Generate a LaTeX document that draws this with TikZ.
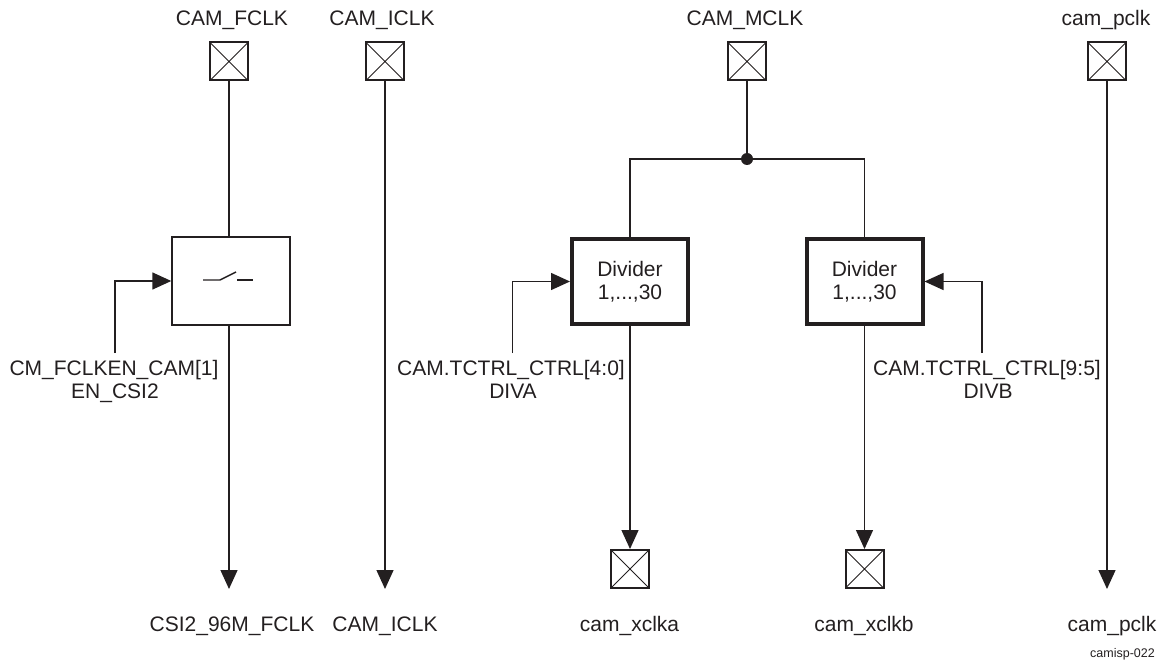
\documentclass[tikz,border=0pt]{standalone}
\usepackage{fontspec}
\setmainfont{Liberation Sans}
\usetikzlibrary{arrows.meta}
\definecolor{ink}{HTML}{231F20}
\begin{document}
\begin{tikzpicture}[x=1pt,y=-1pt,
  every node/.style={text=ink},
  wire/.style={draw=ink,line width=1.4pt},
  arr/.style={wire,-{Triangle[length=19pt,width=17pt]}},
  pad/.style={draw=ink,line width=2pt,rectangle,minimum width=38pt,minimum height=38pt,inner sep=0pt,
    path picture={\draw[ink,line width=1pt] (path picture bounding box.north west)--(path picture bounding box.south east)
      (path picture bounding box.north east)--(path picture bounding box.south west);}},
  lbl/.style={font=\fontsize{21}{25}\selectfont,inner sep=0pt,anchor=base},
  divbox/.style={draw=ink,line width=4pt,rectangle,minimum width=116pt,minimum height=85pt,inner sep=0pt},
  swbox/.style={draw=ink,line width=1.4pt,rectangle,minimum width=118pt,minimum height=88pt,inner sep=0pt},
  dot/.style={circle,fill=ink,minimum size=12pt,inner sep=0pt}
]
\useasboundingbox (0,0) rectangle (1164,660);

% top labels
\node[lbl] (tFCLK) at (232,26) {CAM\_FCLK};
\node[lbl] (tICLK) at (382,26) {CAM\_ICLK};
\node[lbl] (tMCLK) at (745,26) {CAM\_MCLK};
\node[lbl] (tPCLK) at (1106,26) {cam\_pclk};

% pads
\node[pad] (fclkIn) at (229,61.5) {};
\node[pad] (iclkIn) at (385,61.5) {};
\node[pad] (mclkIn) at (747,61.5) {};
\node[pad] (pclkIn) at (1107,61.5) {};
\node[pad] (xclka) at (630,569) {};
\node[pad] (xclkb) at (864.5,569) {};

% switch box
\node[swbox] (sw) at (231,281) {};
\draw[wire] (203,280) -- (220,280) -- (236,272);
\draw[wire] (237,280) -- (253,280);

% dividers
\node[divbox,align=center,font=\fontsize{21}{23}\selectfont] (divA) at (630,281.5) {Divider\\1,...,30};
\node[divbox,align=center,font=\fontsize{21}{23}\selectfont] (divB) at (864.5,281.5) {Divider\\1,...,30};

% junction
\node[dot] (j) at (747,159) {};

% output end coordinates
\coordinate (oF) at (229,589);
\coordinate (oI) at (385,589);
\coordinate (oP) at (1107,589);

% control start coordinates
\coordinate (cS) at (115,353);
\coordinate (cA) at (512.5,353);
\coordinate (cB) at (982,353);

% wires
\draw[wire] (fclkIn.south) -- (fclkIn.south |- sw.north);
\draw[arr] (oF |- sw.south) -- (oF);
\draw[arr] (iclkIn.south) -- (oI);
\draw[arr] (pclkIn.south) -- (oP);
\draw[wire] (mclkIn.south) -- (j.center);
\draw[wire] (j.center) -| (divA.north);
\draw[wire] (j.center) -| (divB.north);
\draw[arr] (divA.south) -- (xclka.north);
\draw[arr] (divB.south) -- (xclkb.north);
\draw[arr] (cS) |- (sw.west);
\draw[arr] (cA) |- (divA.west);
\draw[arr] (cB) |- (divB.east);

% control labels
\node[lbl] (lS1) at (114,375) {CM\_FCLKEN\_CAM[1]};
\node[lbl] (lS2) at (115,398) {EN\_CSI2};
\node[lbl] (lA1) at (511,375) {CAM.TCTRL\_CTRL[4:0]};
\node[lbl] (lA2) at (513,398) {DIVA};
\node[lbl] (lB1) at (987,375) {CAM.TCTRL\_CTRL[9:5]};
\node[lbl] (lB2) at (988,398) {DIVB};

% bottom labels
\node[lbl] (bF) at (232,631) {CSI2\_96M\_FCLK};
\node[lbl] (bI) at (385,631) {CAM\_ICLK};
\node[lbl] (bA) at (629.5,631) {cam\_xclka};
\node[lbl] (bB) at (864,631) {cam\_xclkb};
\node[lbl] (bP) at (1112,631) {cam\_pclk};
\node[inner sep=0pt,anchor=base east,font=\fontsize{12.5}{14}\selectfont] (fig) at (1155,657) {camisp-022};
\end{tikzpicture}
\end{document}
